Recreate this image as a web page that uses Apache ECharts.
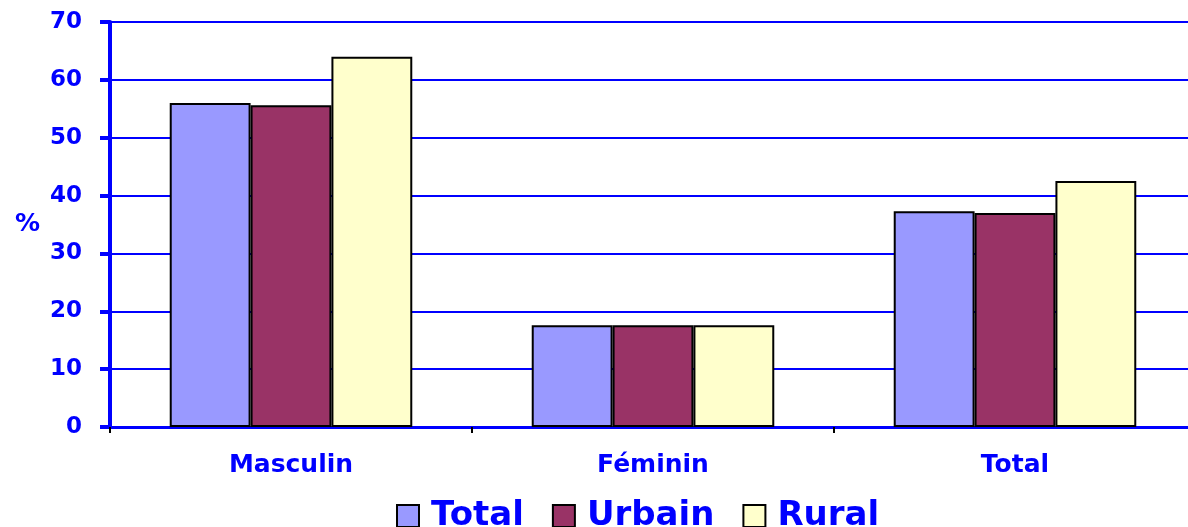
<!DOCTYPE html>
<html>
<head>
<meta charset="utf-8">
<script src="https://cdn.jsdelivr.net/npm/echarts@6/dist/echarts.min.js"></script>
<style>
  html, body { margin: 0; padding: 0; background: #fff; }
  #chart { width: 1188px; height: 527px; }
</style>
</head>
<body>
<div id="chart"></div>
<script>
const categories = ['Masculin', 'Féminin', 'Total']
const seriesNames = ['Total', 'Urbain', 'Rural']
const totalValues = [56, 17.6, 37.3]
const urbainValues = [55.6, 17.6, 37.0]
const ruralValues = [64, 17.6, 42.5]
const yTicks = { min: 0, max: 70, interval: 10 }

const colors = ['#9999ff', '#993366', '#ffffcc']
const font = '"DejaVu Sans", Verdana, sans-serif'

const myChart = echarts.init(document.getElementById('chart'))

function bar(name, data, color) {
  return {
    name: name,
    type: 'bar',
    data: data,
    barGap: '0%',
    barCategoryGap: '33%',
    itemStyle: { color: color, borderColor: '#000', borderWidth: 2 }
  }
}

let option = {
  animation: false,
  textStyle: { fontFamily: font },
  grid: { left: 110, width: 1086, top: 22, bottom: 100, containLabel: false, outerBoundsMode: 'none' },
  legend: {
    bottom: -11,
    left: 391,
    itemWidth: 22,
    itemHeight: 22,
    itemGap: 28,
    icon: 'rect',
    itemStyle: { borderColor: '#000', borderWidth: 2 },
    textStyle: { color: '#0000ff', fontSize: 34, fontWeight: 'bold', fontFamily: font, padding: [0, 0, 0, 7] },
    data: seriesNames
  },
  xAxis: {
    type: 'category',
    data: categories,
    axisLine: { lineStyle: { color: '#0000ff', width: 3 } },
    axisTick: { show: true, length: 6, lineStyle: { color: '#000', width: 2 } },
    axisLabel: { color: '#0000ff', fontSize: 25, fontWeight: 'bold', margin: 26, fontFamily: font }
  },
  yAxis: {
    type: 'value',
    min: yTicks.min,
    max: yTicks.max,
    interval: yTicks.interval,
    name: '%',
    nameLocation: 'middle',
    nameRotate: 0,
    nameGap: 70,
    nameTextStyle: { color: '#0000ff', fontSize: 25, fontWeight: 'bold', fontFamily: font },
    axisLine: { show: true, lineStyle: { color: '#0000ff', width: 4 } },
    axisTick: { show: true, length: 10, lineStyle: { color: '#0000ff', width: 4 } },
    axisLabel: { color: '#0000ff', fontSize: 23, fontWeight: 'bold', margin: 28, fontFamily: font },
    splitLine: { lineStyle: { color: '#0000ff', width: 2 } }
  },
  series: [
    bar(seriesNames[0], totalValues, colors[0]),
    bar(seriesNames[1], urbainValues, colors[1]),
    bar(seriesNames[2], ruralValues, colors[2])
  ]
}

myChart.setOption(option)
</script>
</body>
</html>
